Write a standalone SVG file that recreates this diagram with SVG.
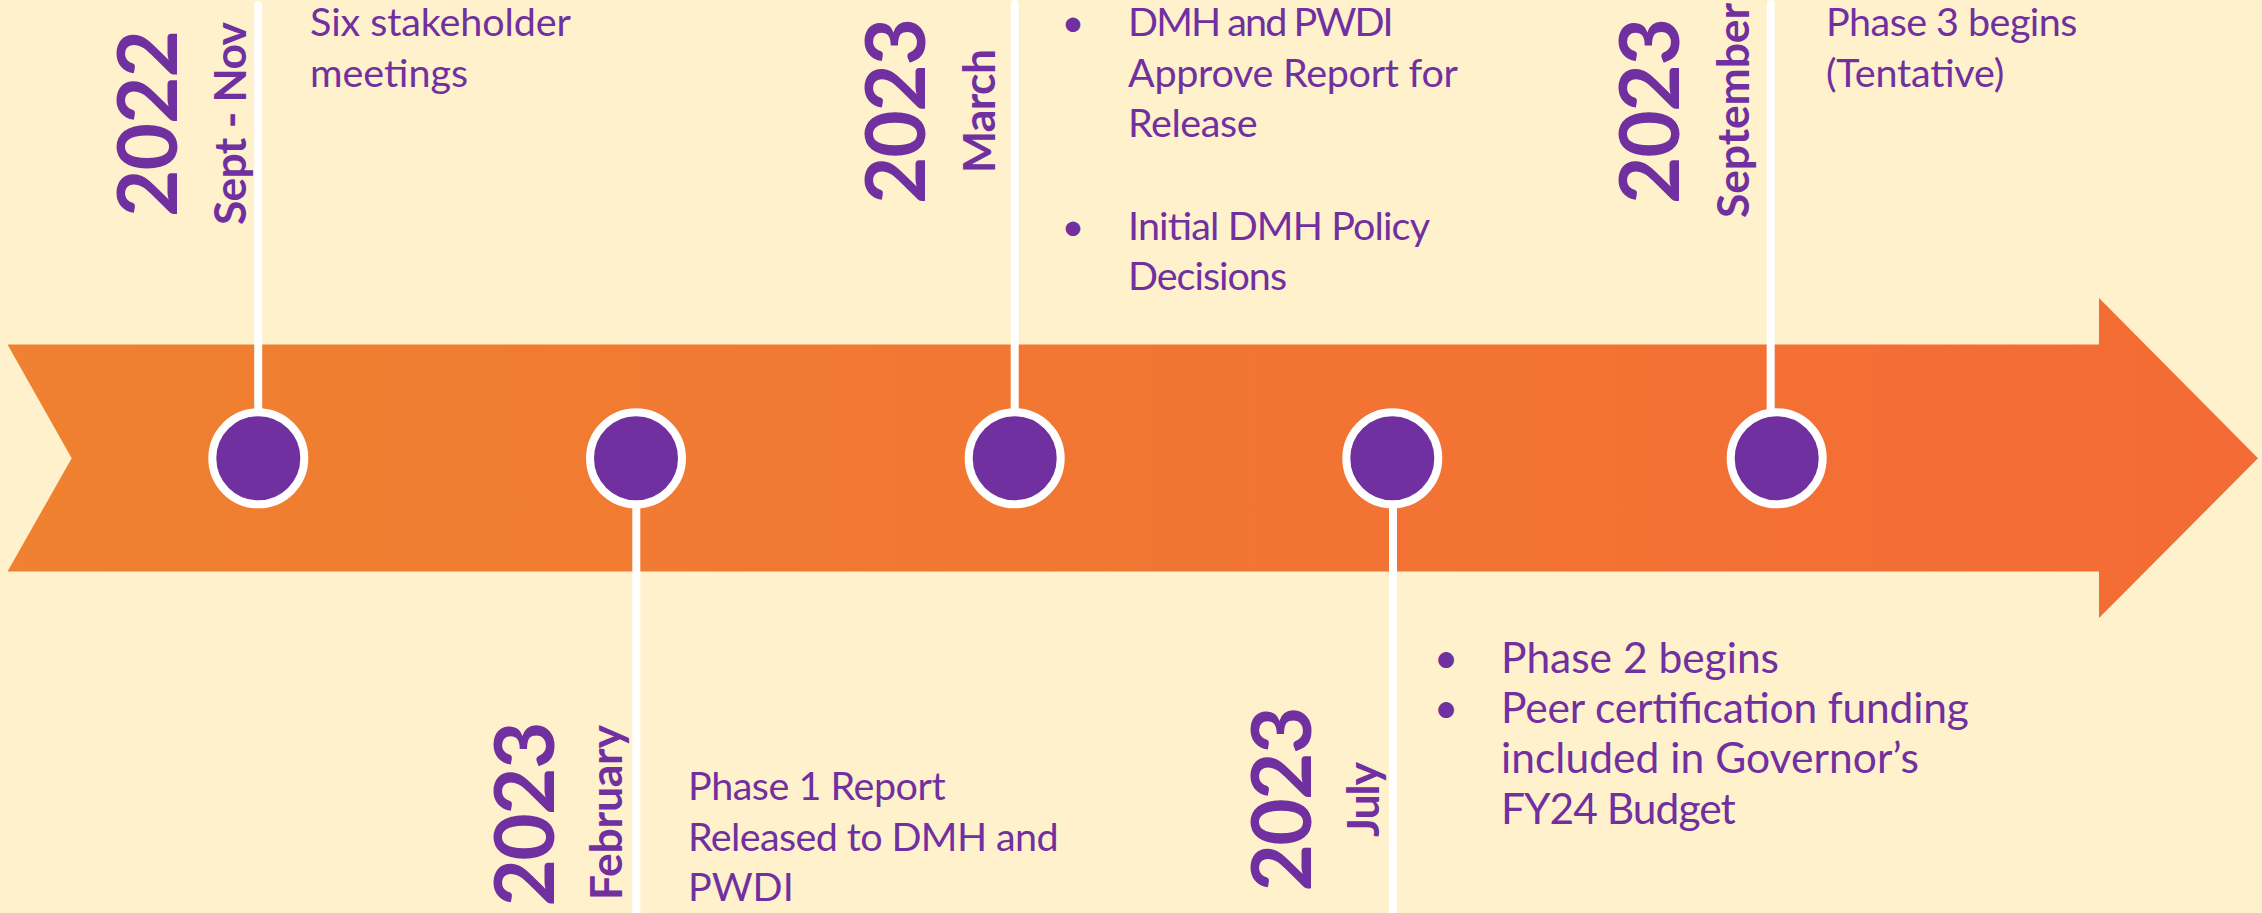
<svg xmlns="http://www.w3.org/2000/svg" width="2262" height="913" viewBox="0 0 2262 913">
  <defs>
    <linearGradient id="bandFill" gradientUnits="userSpaceOnUse" x1="0" y1="0" x2="2262" y2="0">
      <stop offset="0" stop-color="#EF8130"/>
      <stop offset="1" stop-color="#F46B35"/>
    </linearGradient>
    <style>
      .year { font-family: Lato, "Liberation Sans", sans-serif; font-weight: 700; font-size: 82px; fill: #7030A0; text-anchor: middle; }
      .month { font-family: Lato, "Liberation Sans", sans-serif; font-weight: 700; font-size: 44.5px; fill: #7030A0; text-anchor: middle; }
      .body { font-family: Lato, "Liberation Sans", sans-serif; font-weight: 400; font-size: 39.5px; fill: #7030A0; }
      .body.lg { font-size: 42.5px; }
      .bullet { font-family: Lato, "Liberation Sans", sans-serif; font-size: 39.5px; fill: #7030A0; text-anchor: middle; }
      .bullet.lg { font-size: 42.5px; }
      .stem { stroke: #FFFFFF; stroke-width: 8; stroke-linecap: round; fill: none; }
      .dot { fill: #7030A0; stroke: #FFFFFF; stroke-width: 8; }
    </style>
  </defs>

  <!-- page background -->
  <rect x="0" y="0" width="2262" height="913" fill="#FFF1CC"/>

  <!-- timeline arrow band -->
  <g id="arrow">
    <polygon points="7.5,344.5 2099,344.5 2099,298 2258,458.3 2099,618 2099,571.5 7.5,571.5 71.7,458.3" fill="url(#bandFill)"/>
  </g>

  <!-- stems joining the milestones to their labels -->
  <g id="connectors">
    <line class="stem" x1="258.2" y1="5" x2="258.2" y2="440"/>
    <line class="stem" x1="636.3" y1="470" x2="636.3" y2="920"/>
    <line class="stem" x1="1014.7" y1="4" x2="1014.7" y2="440"/>
    <line class="stem" x1="1393" y1="470" x2="1393" y2="920"/>
    <line class="stem" x1="1770.7" y1="4" x2="1770.7" y2="440"/>
  </g>

  <!-- 2022 Sept - Nov -->
  <g id="m-2022-sept-nov">
    <circle class="dot" cx="258.3" cy="458.3" r="46"/>
    <text class="year" transform="translate(177,123.5) rotate(-90)" textLength="187">2022</text>
    <text class="month" transform="translate(246.4,123.5) rotate(-90)" textLength="203">Sept - Nov</text>
    <text class="body" x="310" y="35.5" textLength="261">Six stakeholder</text>
    <text class="body" x="310" y="87">meetings</text>
  </g>

  <!-- 2023 February -->
  <g id="m-2023-february">
    <circle class="dot" cx="636" cy="458.3" r="46"/>
    <text class="year" transform="translate(554,814) rotate(-90)" textLength="185">2023</text>
    <text class="month" transform="translate(622,812.5) rotate(-90)" textLength="175">February</text>
    <text class="body" x="688" y="800" textLength="257.6">Phase 1 Report</text>
    <text class="body" x="688" y="851" textLength="370.5">Released to DMH and</text>
    <text class="body" x="688" y="901">PWDI</text>
  </g>

  <!-- 2023 March -->
  <g id="m-2023-march">
    <circle class="dot" cx="1014.7" cy="458.3" r="46"/>
    <text class="year" transform="translate(925,111) rotate(-90)" textLength="186">2023</text>
    <text class="month" transform="translate(995,111) rotate(-90)" textLength="124">March</text>
    <text class="bullet" x="1073" y="35.5">•</text>
    <text class="body" x="1128" y="35.5" textLength="265.6">DMH and PWDI</text>
    <text class="body" x="1128" y="86.5" textLength="330">Approve Report for</text>
    <text class="body" x="1128" y="137" textLength="129.5">Release</text>
    <text class="bullet" x="1073" y="240">•</text>
    <text class="body" x="1128" y="240" textLength="302">Initial DMH Policy</text>
    <text class="body" x="1128" y="290" textLength="159">Decisions</text>
  </g>

  <!-- 2023 July -->
  <g id="m-2023-july">
    <circle class="dot" cx="1392.3" cy="458.3" r="46"/>
    <text class="year" transform="translate(1311,799) rotate(-90)" textLength="185">2023</text>
    <text class="month" transform="translate(1379,799.5) rotate(-90)" textLength="75">July</text>
    <text class="bullet lg" x="1446" y="673">•</text>
    <text class="body lg" x="1501" y="673" textLength="278">Phase 2 begins</text>
    <text class="bullet lg" x="1446" y="723">•</text>
    <text class="body lg" x="1501" y="723" textLength="467.9">Peer certification funding</text>
    <text class="body lg" x="1501" y="773" textLength="418">included in Governor’s</text>
    <text class="body lg" x="1501" y="824" textLength="234.7">FY24 Budget</text>
  </g>

  <!-- 2023 September -->
  <g id="m-2023-september">
    <circle class="dot" cx="1776.7" cy="458.3" r="46"/>
    <text class="year" transform="translate(1679,111) rotate(-90)" textLength="186">2023</text>
    <text class="month" transform="translate(1749,110.5) rotate(-90)" textLength="215">September</text>
    <text class="body" x="1826" y="35.5" textLength="251.4">Phase 3 begins</text>
    <text class="body" x="1826" y="86.5" textLength="178.3">(Tentative)</text>
  </g>
</svg>
